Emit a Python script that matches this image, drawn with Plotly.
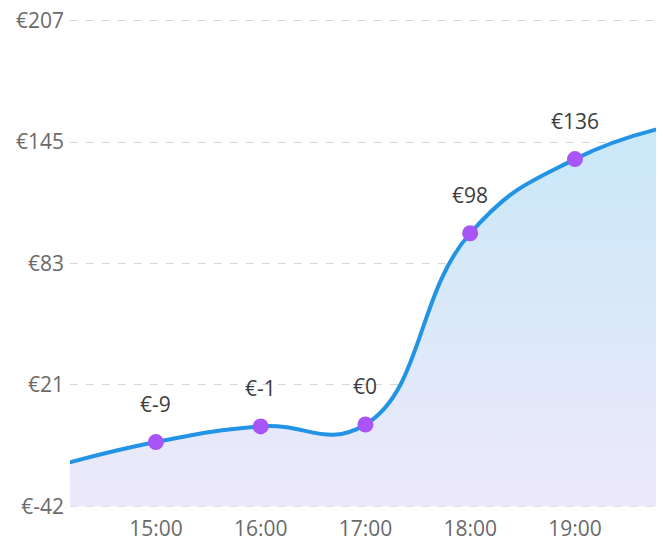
import plotly.graph_objects as go

hours = [14, 15, 16, 17, 18, 19, 20]
values = [-22, -9, -1, 0, 98, 136, 154]
value_labels = ["€-22", "€-9", "€-1", "€0", "€98", "€136", "€154"]
x_tick_vals = [14, 15, 16, 17, 18, 19, 20]
x_tick_text = ["14:00", "15:00", "16:00", "17:00", "18:00", "19:00", "20:00"]
y_tick_vals = [-42, 20.25, 82.5, 144.75, 207]
y_tick_text = ["€-42", "€21", "€83", "€145", "€207"]
y_min, y_max = -42, 207
y_range = [-42.8, 207.8]
x_range = [14.18, 19.85]

FONT = "Open Sans"

fig = go.Figure()
fig.add_trace(go.Scatter(
    x=hours, y=[y_min] * len(hours), mode="lines",
    line=dict(width=0), hoverinfo="skip", showlegend=False,
))
fig.add_trace(go.Scatter(
    x=hours, y=values, mode="lines+markers",
    line=dict(color="#2393e6", width=4, shape="spline", smoothing=1.3),
    marker=dict(color="#a855f7", size=16, line=dict(width=0)),
    fill="tonexty",
    fillgradient=dict(type="vertical",
                      colorscale=[[0, "#ede9fa"], [1, "#c8e8f8"]]),
    hoverinfo="skip", showlegend=False,
))

annotations = [
    dict(x=h, y=v, text=t, showarrow=False, yshift=38,
         font=dict(family=FONT, size=21, color="#3c3c3c"))
    for h, v, t in zip(hours, values, value_labels)
]

# page body has an 8px margin: figure is sized so it ends at the window edge
fig.update_layout(
    width=656, height=533,
    margin=dict(l=62, r=0, t=11, b=33),
    paper_bgcolor="white", plot_bgcolor="white",
    font=dict(family=FONT, size=21, color="#6a6a6a"),
    annotations=annotations,
    xaxis=dict(range=x_range, tickvals=x_tick_vals, ticktext=x_tick_text,
               showgrid=False, zeroline=False, showline=False, automargin=False,
               ticks="", ticklabelstandoff=6, ticklabeloverflow="allow"),
    yaxis=dict(range=y_range, tickvals=y_tick_vals, ticktext=y_tick_text,
               showgrid=True, gridcolor="#d6d6d6", griddash="8px,8px", gridwidth=1,
               zeroline=False, showline=False, ticks="", ticklabelstandoff=5,
               automargin=False, ticklabeloverflow="allow"),
)

fig.write_html("out.html")
